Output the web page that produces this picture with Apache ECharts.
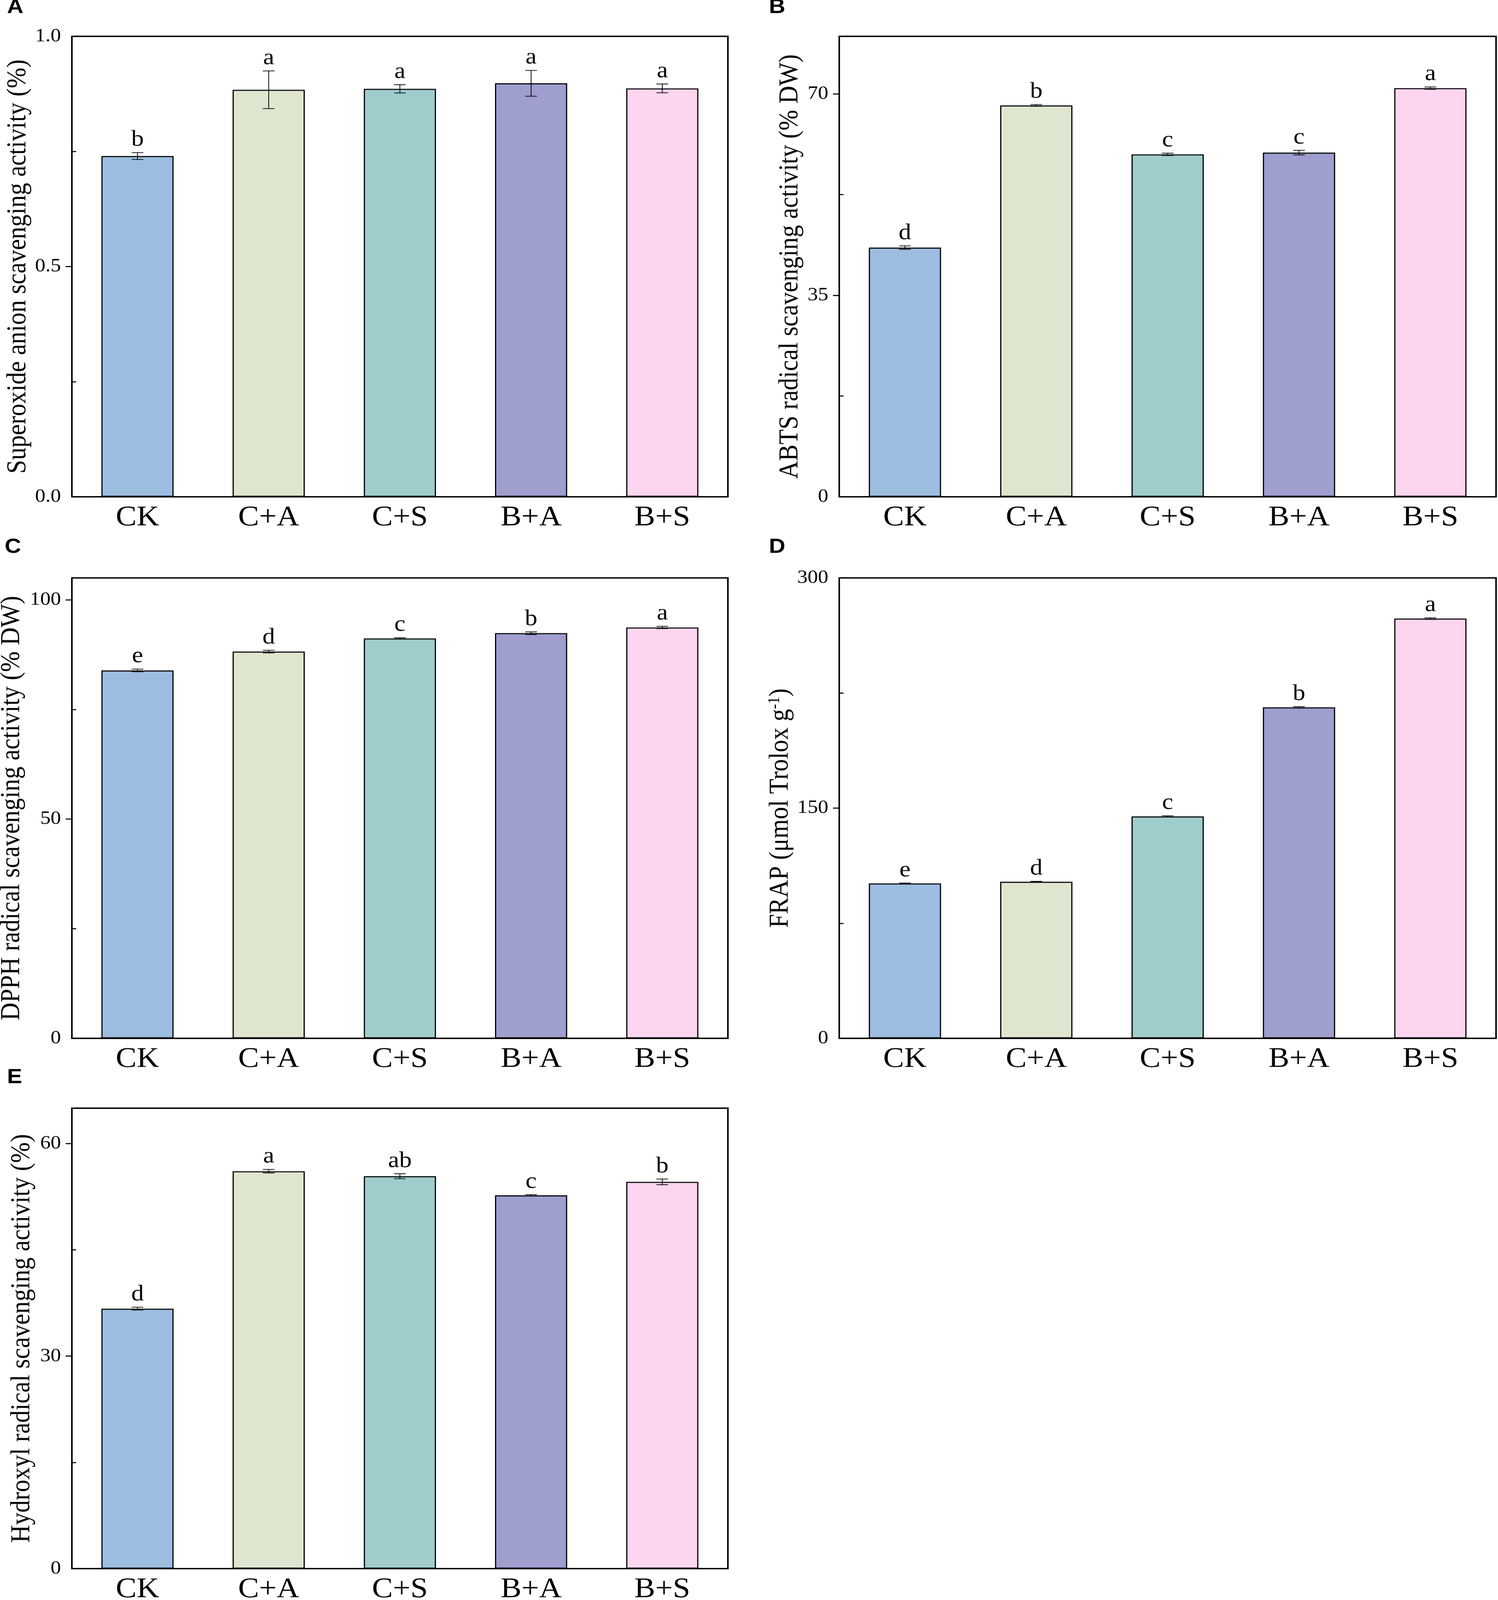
<!DOCTYPE html>
<html>
<head>
<meta charset="utf-8">
<script src="https://cdn.jsdelivr.net/npm/echarts@6/dist/echarts.min.js"></script>
<style>
html,body{margin:0;padding:0;background:#fff;overflow:hidden;}
#chart{width:3834px;height:4535px;transform-origin:0 0;}
</style>
</head>
<body>
<div id="chart"></div>
<script>
// ---------- data ----------
const categories = ['CK', 'C+A', 'C+S', 'B+A', 'B+S'];

const superoxideMean = [0.740, 0.884, 0.886, 0.898, 0.887];
const superoxideErr  = [0.0075, 0.041, 0.009, 0.028, 0.0095];
const superoxideSig  = ['b', 'a', 'a', 'a', 'a'];

const abtsMean = [43.3, 68.0, 59.5, 59.8, 71.0];
const abtsErr  = [0.3, 0.15, 0.2, 0.4, 0.2];
const abtsSig  = ['d', 'b', 'c', 'c', 'a'];

const dpphMean = [83.9, 88.2, 91.2, 92.4, 93.7];
const dpphErr  = [0.3, 0.3, 0.15, 0.3, 0.25];
const dpphSig  = ['e', 'd', 'c', 'b', 'a'];

const frapMean = [100.9, 102.0, 144.6, 215.7, 273.5];
const frapErr  = [0.3, 0.3, 0.4, 0.4, 0.5];
const frapSig  = ['e', 'd', 'c', 'b', 'a'];

const hydroxylMean = [36.7, 56.1, 55.4, 52.7, 54.6];
const hydroxylErr  = [0.2, 0.25, 0.35, 0.1, 0.4];
const hydroxylSig  = ['d', 'a', 'ab', 'c', 'b'];

const ticksA = [0.0, 0.5, 1.0];
const ticksB = [0, 35, 70];
const ticksC = [0, 50, 100];
const ticksD = [0, 150, 300];
const ticksE = [0, 30, 60];

const minorA = [0.25, 0.75];
const minorB = [17.5, 52.5];
const minorC = [25, 75];
const minorD = [75, 225];
const minorE = [15, 45];

// ---------- styles ----------
const barColors = ['#9dbde0', '#dfe6cf', '#9ecdcc', '#9e9ecf', '#fdd5ef'];
const SERIF = '"Liberation Serif", "Times New Roman", serif';
const SANS = '"Liberation Sans", Arial, sans-serif';

// fit the 3834x4535 figure into whatever viewport the browser really gives
(function(){
  const W = 3834, H = 4535;
  const vw = window.innerWidth || W, vh = window.innerHeight || H;
  const sx = Math.min(1, vw / W), sy = Math.min(1, vh / H);
  if (sx < 1 || sy < 1) {
    document.getElementById('chart').style.transform = 'scale(' + sx + ',' + sy + ')';
  }
})();

const panels = [
  {letter:'A', name:'Superoxide anion scavenging activity (%)', mean:superoxideMean, err:superoxideErr, sig:superoxideSig,
   ticks:ticksA, minor:minorA, max:1.0, interval:0.5, digits:1,
   grid:{left:184, top:103, width:1679, height:1305}, nameGap:102, lx:18, ly:22},
  {letter:'B', name:'ABTS radical scavenging activity (% DW)', mean:abtsMean, err:abtsErr, sig:abtsSig,
   ticks:ticksB, minor:minorB, max:80, interval:35, digits:0,
   grid:{left:2148, top:103, width:1681, height:1305}, nameGap:90, lx:1968, ly:22},
  {letter:'C', name:'DPPH radical scavenging activity (% DW)', mean:dpphMean, err:dpphErr, sig:dpphSig,
   ticks:ticksC, minor:minorC, max:105, interval:50, digits:0,
   grid:{left:184, top:1638, width:1679, height:1305}, nameGap:118, lx:12, ly:1552},
  {letter:'D', name:'FRAP (μmol Trolox g{sup|-1})', mean:frapMean, err:frapErr, sig:frapSig,
   ticks:ticksD, minor:minorD, max:300, interval:150, digits:0,
   grid:{left:2148, top:1638, width:1681, height:1305}, nameGap:114, lx:1968, ly:1552},
  {letter:'E', name:'Hydroxyl radical scavenging activity (%)', mean:hydroxylMean, err:hydroxylErr, sig:hydroxylSig,
   ticks:ticksE, minor:minorE, max:65, interval:30, digits:0,
   grid:{left:184, top:3141, width:1679, height:1305}, nameGap:92, lx:18, ly:3055}
];

const grids = [], xAxes = [], yAxes = [], series = [], graphics = [];

panels.forEach(function(p, g){
  grids.push(Object.assign({show:true, borderColor:'#000', borderWidth:4, backgroundColor:'rgba(0,0,0,0)',
    containLabel:false, outerBoundsMode:'none'}, p.grid));
  xAxes.push({
    type:'category', gridIndex:g, data:categories,
    axisLine:{show:true, lineStyle:{color:'#000', width:4}},
    axisTick:{show:false},
    axisLabel:{color:'#000', fontSize:80, fontFamily:SERIF, margin:20},
    splitLine:{show:false}
  });
  const interior = p.ticks.filter(function(v){ return v > 0 && v < p.max; });
  const mainIdx = yAxes.length;
  yAxes.push({
    type:'value', gridIndex:g, position:'left', min:0, max:p.max, interval:p.interval,
    axisLine:{show:true, onZero:false, lineStyle:{color:'#000', width:4}},
    axisTick:{show:true, inside:false, length:16, lineStyle:{color:'#000', width:3}, customValues:interior},
    axisLabel:{color:'#000', fontSize:53, fontFamily:SERIF, margin:28, customValues:p.ticks,
      showMaxLabel:true,
      formatter:(function(d){ return function(v){ return Number(v).toFixed(d); }; })(p.digits)},
    splitLine:{show:false},
    name:p.name, nameLocation:'middle', nameGap:p.nameGap, nameRotate:90,
    nameTextStyle:{color:'#000', fontSize:70, fontFamily:SERIF,
      rich:{sup:{fontSize:42, fontFamily:SERIF, color:'#000', verticalAlign:'top', padding:[0,0,30,0]}}}
  });
  yAxes.push({
    type:'value', gridIndex:g, position:'left', min:0, max:p.max, interval:p.interval,
    axisLine:{show:false},
    axisTick:{show:true, inside:true, length:11, lineStyle:{color:'#000', width:3}, customValues:p.minor},
    axisLabel:{show:false},
    splitLine:{show:false}
  });
  series.push({
    type:'bar', xAxisIndex:g, yAxisIndex:mainIdx, barWidth:'55%', z:2,
    itemStyle:{borderColor:'#000', borderWidth:3},
    data:p.mean.map(function(v, i){ return {value:v, itemStyle:{color:barColors[i]}}; })
  });
  const sig = p.sig;
  series.push({
    type:'custom', xAxisIndex:g, yAxisIndex:mainIdx, z:5,
    data:p.mean.map(function(v, i){ return [i, v, p.err[i]]; }),
    renderItem:function(params, api){
      const x = api.value(0), v = api.value(1), e = api.value(2);
      const top = api.coord([x, v + e]);
      const bot = api.coord([x, v - e]);
      const half = 15;
      const ls = {stroke:'#000', lineWidth:2};
      return {type:'group', children:[
        {type:'line', shape:{x1:top[0], y1:top[1], x2:top[0], y2:bot[1]}, style:ls},
        {type:'line', shape:{x1:top[0]-half, y1:top[1], x2:top[0]+half, y2:top[1]}, style:ls},
        {type:'line', shape:{x1:top[0]-half, y1:bot[1], x2:top[0]+half, y2:bot[1]}, style:ls},
        {type:'text', x:top[0], y:top[1] - 4, style:{text:sig[params.dataIndex], fill:'#000',
          font:'64px ' + SERIF, textAlign:'center', textVerticalAlign:'bottom'}}
      ]};
    }
  });
  graphics.push({type:'text', left:p.lx, top:p.ly - 30, style:{text:p.letter, fill:'#000', font:'bold 58px ' + SANS}});
});

const chart = echarts.init(document.getElementById('chart'), null, {renderer:'canvas', width:3834, height:4535});
chart.setOption({
  backgroundColor:'#fff',
  animation:false,
  grid:grids, xAxis:xAxes, yAxis:yAxes, series:series, graphic:graphics
});
</script>
</body>
</html>
